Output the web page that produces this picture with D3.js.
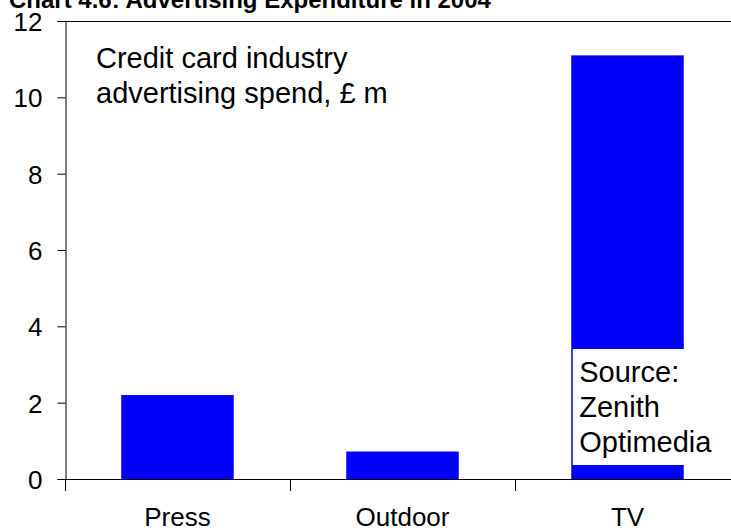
<!DOCTYPE html>
<html><head><meta charset="utf-8">
<script src="https://cdn.jsdelivr.net/npm/d3@7"></script>
<style>html,body{margin:0;padding:0;background:#fff;overflow:hidden}text{font-family:"Liberation Sans",Arial,sans-serif}</style>
</head><body>
<svg id="c" width="731" height="532"></svg>
<script>
const categories = ["Press", "Outdoor", "TV"];
const values = [2.2, 0.72, 11.1];
const yTicks = [0, 2, 4, 6, 8, 10, 12];
const title = "Chart 4.6: Advertising Expenditure in 2004";
const noteLines = ["Credit card industry", "advertising spend, £ m"];
const sourceLines = ["Source:", "Zenith", "Optimedia"];

const svg = d3.select("#c");
const m = {l: 65, t: 21, r: -9, b: 53};
const W = 731, H = 532;
const x = d3.scaleBand().domain(categories).range([m.l, W - m.r]).paddingInner(0).paddingOuter(0);
const y = d3.scaleLinear().domain([0, 12]).range([H - m.b, m.t]);

// top border
svg.append("line").attr("x1", m.l).attr("x2", W).attr("y1", y(12) + 0.5).attr("y2", y(12) + 0.5).attr("stroke", "#000").attr("stroke-width", 1);

// bars
svg.selectAll("rect.bar").data(categories).enter().append("rect")
  .attr("class", "bar")
  .attr("x", d => x(d) + x.bandwidth() * 0.25)
  .attr("width", x.bandwidth() * 0.5)
  .attr("y", (d, i) => y(values[i]))
  .attr("height", (d, i) => y(0) - y(values[i]))
  .attr("fill", "#0000ff");

// y axis
const ya = svg.append("g").attr("transform", `translate(${m.l + 0.5},0)`)
  .call(d3.axisLeft(y).tickValues(yTicks).tickSize(8).tickPadding(15).tickFormat(d3.format("d")));
ya.select(".domain").attr("stroke", "#000");
ya.selectAll("text").attr("font-size", 26).attr("fill", "#000").attr("dy", "0.36em");

// x axis
const xa = svg.append("g").attr("transform", `translate(0,${y(0) + 0.5})`)
  .call(d3.axisBottom(x).tickSize(0).tickPadding(28));
xa.select(".domain").attr("stroke", "#000").attr("d", `M${m.l},0H${W}`);
xa.selectAll("text").attr("font-size", 26).attr("fill", "#000").attr("dy", "0.71em");
// category boundary ticks
const bounds = categories.map(c => x(c));
svg.selectAll("line.xt").data(bounds).enter().append("line")
  .attr("x1", d => d + 0.5).attr("x2", d => d + 0.5)
  .attr("y1", y(0)).attr("y2", y(0) + 12)
  .attr("stroke", "#000");

// title
svg.append("text").attr("x", 9).attr("y", 8).attr("font-size", 24).attr("font-weight", "bold").text(title);

// note
svg.append("g").selectAll("text").data(noteLines).enter().append("text")
  .attr("x", 96).attr("y", (d, i) => 68 + i * 35).attr("font-size", 29).text(d => d);

// source box
const tvX = x("TV") + x.bandwidth() * 0.25;
svg.append("rect").attr("x", tvX + 1.5).attr("y", 349).attr("width", 155).attr("height", 116).attr("fill", "#fff");
svg.append("g").selectAll("text").data(sourceLines).enter().append("text")
  .attr("x", tvX + 8).attr("y", (d, i) => 382 + i * 35).attr("font-size", 29).text(d => d);
</script>
</body></html>
